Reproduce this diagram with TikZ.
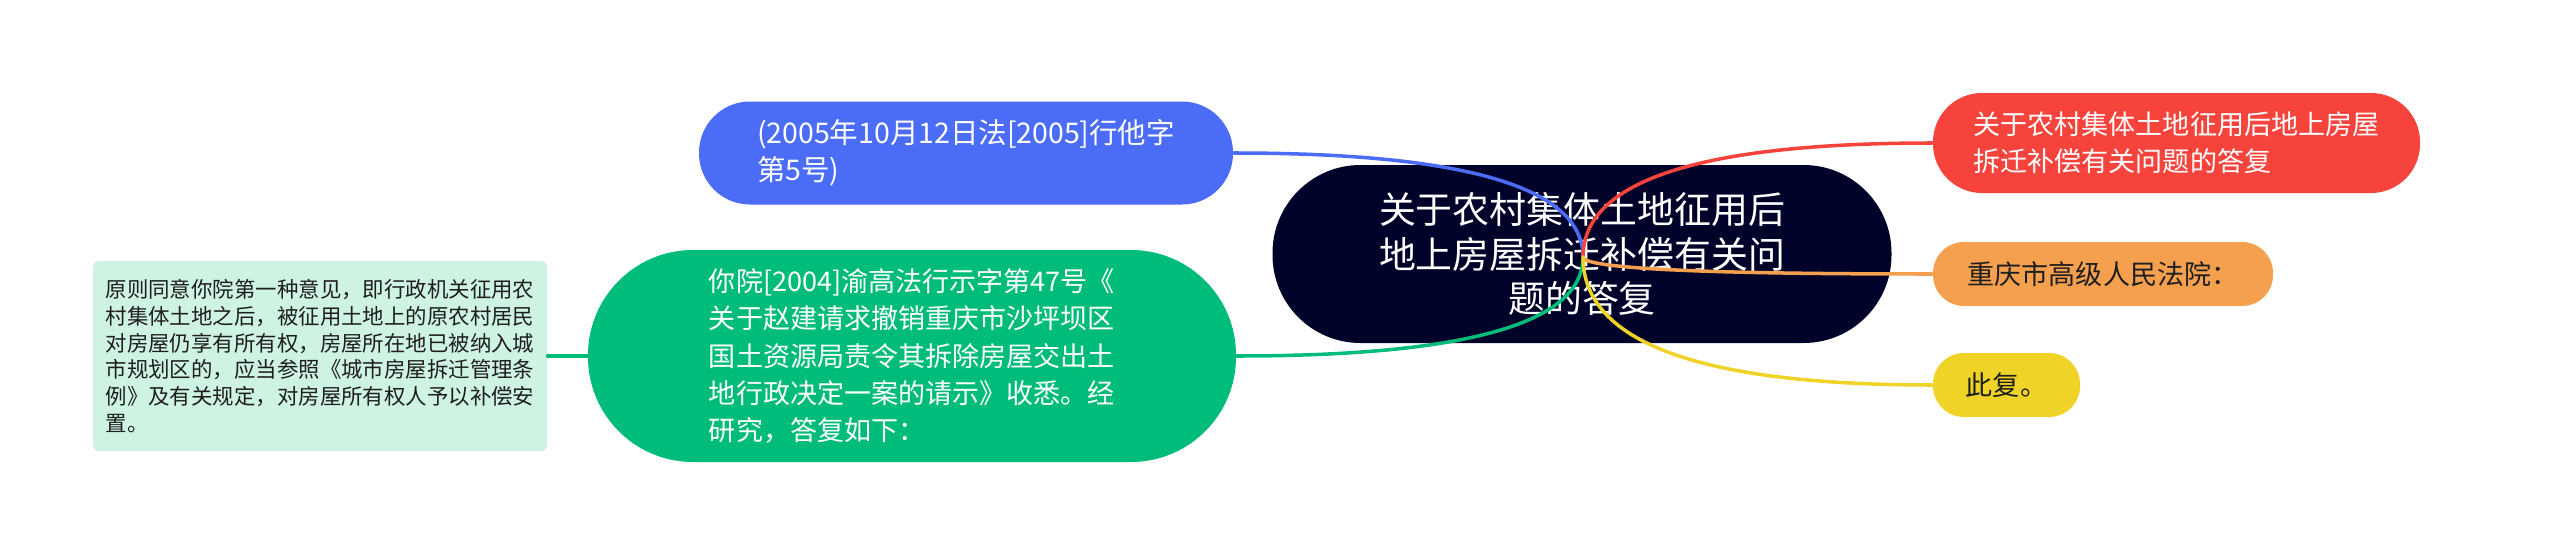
\documentclass[tikz,border=0pt]{standalone}
\usepackage{fontspec}
\setmainfont{Noto Sans CJK SC}
\usepackage{xcolor}
\usepackage{tikz}
\usetikzlibrary{positioning, calc}
\definecolor{rootnavy}{HTML}{01022A}
\definecolor{topicblue}{HTML}{4A6CF7}
\definecolor{topicgreen}{HTML}{00BC7B}
\definecolor{leafmint}{HTML}{CFF3E3}
\definecolor{topicred}{HTML}{F6443D}
\definecolor{topicorange}{HTML}{F5A04F}
\definecolor{topicyellow}{HTML}{F0D327}
\definecolor{inkdark}{HTML}{1E1E1E}

\begin{document}
\begin{tikzpicture}[
    topic/.style={rectangle, rounded corners=#1, inner sep=0pt, align=left,
        text=white, font=\fontsize{7.7}{10.6}\selectfont},
    link/.style={line width=1pt, line cap=round}
]
    \useasboundingbox (0, 0) rectangle (25.6, -5.57);

    % ── root ──────────────────────────────────────────────────────────
    \node[rectangle, rounded corners=0.88cm, fill=rootnavy, text=white,
          minimum width=6.19cm, minimum height=1.78cm, align=center,
          font=\fontsize{10.5}{12.6}\selectfont] (root) at (15.82, -2.54)
        {关于农村集体土地征用后\\地上房屋拆迁补偿有关问\\题的答复};
    \coordinate (hub) at (15.83, -2.57);

    % ── left topics ───────────────────────────────────────────────────
    \node[topic=0.51cm, fill=topicblue, minimum width=5.34cm, minimum height=1.03cm,
          font=\fontsize{8.1}{10.6}\selectfont]
        (date) at (9.66, -1.53) {(2005年10月12日法[2005]行他字\\第5号)};
    \node[topic=1.05cm, fill=topicgreen, minimum width=6.48cm, minimum height=2.12cm]
        (request) at (9.12, -3.56)
        {你院[2004]渝高法行示字第47号《\\关于赵建请求撤销重庆市沙坪坝区\\国土资源局责令其拆除房屋交出土\\地行政决定一案的请示》收悉。经\\研究，答复如下：};
    \node[rectangle, rounded corners=0.06cm, fill=leafmint, text=inkdark, inner sep=0pt,
          minimum width=4.54cm, minimum height=1.90cm, align=left,
          font=\fontsize{6.1}{7.6}\selectfont] (opinion) at (3.20, -3.56)
        {原则同意你院第一种意见，即行政机关征用农\\村集体土地之后，被征用土地上的原农村居民\\对房屋仍享有所有权，房屋所在地已被纳入城\\市规划区的，应当参照《城市房屋拆迁管理条\\例》及有关规定，对房屋所有权人予以补偿安\\置。};

    % ── right topics ──────────────────────────────────────────────────
    \node[topic=0.49cm, fill=topicred, minimum width=4.87cm, minimum height=1.00cm]
        (title) at (21.765, -1.43) {关于农村集体土地征用后地上房屋\\拆迁补偿有关问题的答复};
    \node[topic=0.31cm, fill=topicorange, text=inkdark, minimum width=3.40cm, minimum height=0.64cm]
        (court) at (21.03, -2.74) {重庆市高级人民法院：};
    \node[topic=0.31cm, fill=topicyellow, text=inkdark, minimum width=1.47cm, minimum height=0.64cm]
        (reply) at (20.065, -3.85) {此复。};

    % ── connectors ────────────────────────────────────────────────────
    \foreach \target/\side/\col in {date/east/topicblue, request/east/topicgreen,
                                    title/west/topicred, court/west/topicorange,
                                    reply/west/topicyellow}{
        \draw[link, \col] (hub)
            .. controls ($(hub)!2/3!(hub |- \target.\side)$)
               and ($(\target.\side)!2/3!(hub |- \target.\side)$) .. (\target.\side);
    }
    \draw[link, topicgreen] (request.west) -- (opinion.east);
\end{tikzpicture}
\end{document}
